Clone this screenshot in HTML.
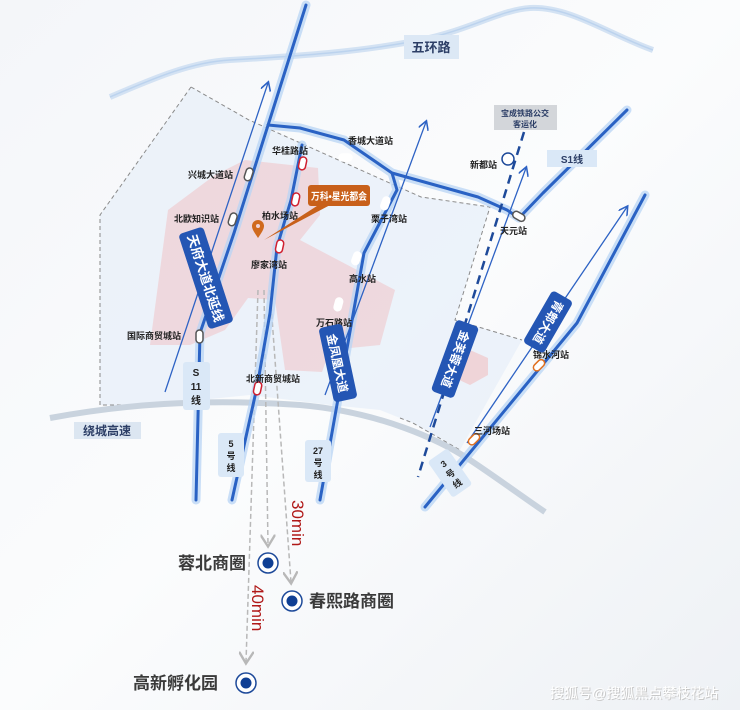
<!DOCTYPE html>
<html><head><meta charset="utf-8">
<style>
html,body{margin:0;padding:0;background:#fff;}
svg{display:block;font-family:"Liberation Sans","Noto Sans CJK SC",sans-serif;}
</style></head>
<body>
<svg width="740" height="710" viewBox="0 0 740 710" xmlns="http://www.w3.org/2000/svg">
<defs>
<linearGradient id="bg" x1="0" y1="0" x2="1" y2="1">
<stop offset="0" stop-color="#f4f6f9"/><stop offset="0.5" stop-color="#fbfcfd"/><stop offset="1" stop-color="#eef1f5"/>
</linearGradient>
<marker id="ab" markerWidth="8" markerHeight="8" refX="6" refY="4" orient="auto"><path d="M0,0 L7,4 L0,8" fill="none" stroke="#2d62c4" stroke-width="1.2"/></marker>
<marker id="ag" markerWidth="10" markerHeight="10" refX="7" refY="5" orient="auto"><path d="M0,0 L8,5 L0,10" fill="none" stroke="#b8b8b8" stroke-width="1.6"/></marker>
</defs>
<rect width="740" height="710" fill="url(#bg)"/>

<!-- 五环路 -->
<path d="M110,97 C150,80 190,62 230,60 C300,56 360,52 420,40 C470,30 500,10 530,8 C570,6 610,35 653,50" fill="none" stroke="#d3e2f3" stroke-width="6"/>
<path d="M110,97 C150,80 190,62 230,60 C300,56 360,52 420,40 C470,30 500,10 530,8 C570,6 610,35 653,50" fill="none" stroke="#bcd3ee" stroke-width="1.5"/>
<rect x="404" y="35" width="55" height="24" fill="#dce8f5"/>
<text x="431" y="52" font-size="13" font-weight="bold" fill="#2c3e66" text-anchor="middle">五环路</text>

<!-- district -->
<path d="M191,87 L249,120 L421,197 L490,207 L455,320 L522,340 L460,450 L413,423 L400,418 L380,410 L330,405 L250,395 L150,405 L100,405 L100,215 Z" fill="#e8f0f9" opacity="0.8"/>
<path d="M191,87 L249,120 L421,197 L490,207 L455,320 L522,340" fill="none" stroke="#8a8a8a" stroke-width="1" stroke-dasharray="4,3"/>
<path d="M400,418 L413,423 L460,450" fill="none" stroke="#8a8a8a" stroke-width="1" stroke-dasharray="4,3"/>
<path d="M191,87 L100,215 L100,405 L150,405" fill="none" stroke="#8a8a8a" stroke-width="1" stroke-dasharray="4,3"/>
<!-- pink -->
<path d="M150,345 L168,210 L215,175 L245,160 L318,168 L320,215 L300,240 L395,290 L380,345 L330,350 L322,372 L285,370 L275,300 L248,298 L225,330 L190,345 Z" fill="#efd4d8" opacity="0.85"/>
<path d="M455,355 L470,350 L488,358 L488,375 L470,385 L455,378 Z" fill="#efd4d8"/>

<!-- 绕城高速 -->
<path d="M50,418 C120,405 200,398 300,405 C380,412 440,440 470,460 C500,480 520,495 545,512" fill="none" stroke="#c9d3de" stroke-width="6"/>
<rect x="74" y="422" width="67" height="17" fill="#dce6f1"/>
<text x="107" y="435" font-size="12" font-weight="bold" fill="#2c3e66" text-anchor="middle">绕城高速</text>

<!-- dashed gray commute arrows -->
<path d="M258,290 L246,662" stroke="#b8b8b8" stroke-width="1.5" stroke-dasharray="5,3" fill="none" marker-end="url(#ag)"/>
<path d="M264,290 L268,545" stroke="#b8b8b8" stroke-width="1.5" stroke-dasharray="5,3" fill="none" marker-end="url(#ag)"/>
<path d="M270,290 L291,582" stroke="#b8b8b8" stroke-width="1.5" stroke-dasharray="5,3" fill="none" marker-end="url(#ag)"/>

<!-- glow lines -->
<g fill="none" stroke="#b9d5f5" stroke-width="9" stroke-linecap="round" stroke-linejoin="round" opacity="0.75">
<path d="M306,5 L234,233 L200,333 L196,500"/>
<path d="M268,125 L300,128 L344,140 L392,173 L478,197 L507,210 L519,218 L543,193 L627,110"/>
<path d="M392,173 L397,190 L364,253 L320,500"/>
<path d="M302,145 L291,200 L277,247 L270,313 L257,387 L232,500"/>
<path d="M645,195 L577,323 L425,507"/>
</g>
<g fill="none" stroke="#2a62c4" stroke-width="3" stroke-linecap="round" stroke-linejoin="round">
<path d="M306,5 L234,233 L200,333 L196,500"/>
<path d="M268,125 L300,128 L344,140 L392,173 L478,197 L507,210 L519,218 L543,193 L627,110"/>
<path d="M392,173 L397,190 L364,253 L320,500"/>
<path d="M302,145 L291,200 L277,247 L270,313 L257,387 L232,500"/>
<path d="M645,195 L577,323 L425,507"/>
</g>
<!-- thin arrows -->
<g stroke="#2d62c4" stroke-width="1.3" fill="none" marker-end="url(#ab)">
<path d="M165,392 L268,83"/>
<path d="M325,395 L426,122"/>
<path d="M430,427 L526,168"/>
<path d="M467,443 L627,207"/>
</g>
<!-- dashed railway -->
<path d="M524,132 L418,477" stroke="#1e4a9a" stroke-width="2.5" stroke-dasharray="9,6" fill="none"/>
<circle cx="508" cy="159" r="6" fill="#fff" stroke="#1e4a9a" stroke-width="1.5"/>
<rect x="494" y="105" width="63" height="25" fill="#d3d6da"/>
<text x="525" y="116" font-size="8" font-weight="bold" fill="#2c3e66" text-anchor="middle">宝成铁路公交</text>
<text x="525" y="127" font-size="8" font-weight="bold" fill="#2c3e66" text-anchor="middle">客运化</text>
<rect x="547" y="150" width="50" height="17" fill="#dae8f7"/>
<text x="572" y="163" font-size="10" font-weight="bold" fill="#2c3e66" text-anchor="middle">S1线</text>

<!-- stations -->
<g stroke-width="1.5">
<rect x="245" y="168" width="7" height="13" rx="3.5" fill="#fff" stroke="#555" transform="rotate(18 249 175)"/>
<rect x="229" y="213" width="7" height="13" rx="3.5" fill="#fff" stroke="#555" transform="rotate(18 233 220)"/>
<rect x="196" y="330" width="7" height="13" rx="3.5" fill="#fff" stroke="#555"/>
<rect x="299" y="157" width="7" height="13" rx="3.5" fill="#fff" stroke="#d02030" transform="rotate(12 303 164)"/>
<rect x="292" y="193" width="7" height="13" rx="3.5" fill="#fff" stroke="#d02030" transform="rotate(12 296 200)"/>
<rect x="276" y="240" width="7" height="13" rx="3.5" fill="#fff" stroke="#d02030" transform="rotate(12 280 247)"/>
<rect x="254" y="382" width="7" height="13" rx="3.5" fill="#fff" stroke="#d02030" transform="rotate(12 258 389)"/>
<rect x="339" y="154" width="13" height="7" rx="3.5" fill="#fff" stroke="#fff"/>
<rect x="382" y="197" width="7" height="13" rx="3.5" fill="#fff" stroke="#fff" transform="rotate(20 386 203)"/>
<rect x="353" y="252" width="7" height="13" rx="3.5" fill="#fff" stroke="#fff" transform="rotate(20 357 258)"/>
<rect x="335" y="298" width="7" height="13" rx="3.5" fill="#fff" stroke="#fff" transform="rotate(15 339 304)"/>
<rect x="512" y="213" width="13" height="7" rx="3.5" fill="#fff" stroke="#555" transform="rotate(30 519 217)"/>
<rect x="533" y="362" width="13" height="7" rx="3.5" fill="#fff" stroke="#e07020" transform="rotate(-45 539 366)"/>
<rect x="468" y="436" width="13" height="7" rx="3.5" fill="#fff" stroke="#e07020" transform="rotate(-45 474 440)"/>
</g>

<!-- station labels -->
<g font-size="9" font-weight="bold" fill="#222">
<text x="188" y="178">兴城大道站</text>
<text x="174" y="222">北欧知识站</text>
<text x="127" y="339">国际商贸城站</text>
<text x="272" y="154">华桂路站</text>
<text x="262" y="219">柏水场站</text>
<text x="251" y="268">廖家湾站</text>
<text x="246" y="382">北新商贸城站</text>
<text x="348" y="144">香城大道站</text>
<text x="371" y="222">栗子湾站</text>
<text x="349" y="282">高水站</text>
<text x="316" y="326">万石路站</text>
<text x="470" y="168">新都站</text>
<text x="500" y="234">天元站</text>
<text x="533" y="358">锦水河站</text>
<text x="474" y="434">三河场站</text>
</g>

<!-- line name boxes -->
<g transform="translate(206,278) rotate(72)">
<rect x="-50" y="-13" width="100" height="26" rx="4" fill="#2456b4"/>
<text x="0" y="5" font-size="13" font-weight="bold" fill="#fff" text-anchor="middle">天府大道北延线</text>
</g>
<g transform="translate(338,363) rotate(78)">
<rect x="-38" y="-12" width="76" height="24" rx="4" fill="#2456b4"/>
<text x="0" y="5" font-size="12" font-weight="bold" fill="#fff" text-anchor="middle">金凤凰大道</text>
</g>
<g transform="translate(455,359) rotate(110)">
<rect x="-38" y="-12" width="76" height="24" rx="4" fill="#2456b4"/>
<text x="0" y="4" font-size="12" font-weight="bold" fill="#fff" text-anchor="middle">金芙蓉大道</text>
</g>
<g transform="translate(548,322) rotate(120)">
<rect x="-30" y="-12" width="60" height="24" rx="4" fill="#2456b4"/>
<text x="0" y="4" font-size="12" font-weight="bold" fill="#fff" text-anchor="middle">青郫大道</text>
</g>
<rect x="183" y="362" width="27" height="48" rx="3" fill="#dae8f7"/>
<g font-size="10" font-weight="bold" fill="#222" text-anchor="middle">
<text x="196" y="376">S</text><text x="196" y="390">11</text><text x="196" y="404">线</text>
</g>
<rect x="218" y="433" width="26" height="44" rx="3" fill="#dae8f7"/>
<g font-size="9" font-weight="bold" fill="#222" text-anchor="middle">
<text x="231" y="447">5</text><text x="231" y="459">号</text><text x="231" y="471">线</text>
</g>
<rect x="305" y="440" width="26" height="42" rx="3" fill="#dae8f7"/>
<g font-size="9" font-weight="bold" fill="#222" text-anchor="middle">
<text x="318" y="454">27</text><text x="318" y="466">号</text><text x="318" y="478">线</text>
</g>
<g transform="translate(450,473) rotate(-35)">
<rect x="-12" y="-22" width="24" height="44" rx="3" fill="#dae8f7"/>
<g font-size="9" font-weight="bold" fill="#222" text-anchor="middle">
<text x="0" y="-8">3</text><text x="0" y="4">号</text><text x="0" y="16">线</text>
</g></g>

<!-- callout -->
<path d="M264,240 L320,204 L332,204 Z" fill="#c8601a"/>
<rect x="308" y="185" width="62" height="21" rx="3" fill="#c8601a"/>
<text x="311" y="200" font-size="10" font-weight="bold" fill="#fff" textLength="56" lengthAdjust="spacingAndGlyphs">万科•星光都会</text>
<path d="M258,238 C254,232 252,229 252,226 A6,6 0 1 1 264,226 C264,229 262,232 258,238 Z" fill="#d06a1e"/>
<circle cx="258" cy="226" r="2" fill="#efd4d8"/>

<!-- time labels -->
<text transform="translate(292,500) rotate(90)" font-size="17" fill="#b01818">30min</text>
<text transform="translate(252,585) rotate(90)" font-size="17" fill="#b01818">40min</text>

<!-- destinations -->
<g>
<circle cx="268" cy="563" r="10" fill="#fff" stroke="#1e4a9a" stroke-width="1.5"/><circle cx="268" cy="563" r="5.5" fill="#0f3f94"/>
<circle cx="292" cy="601" r="10" fill="#fff" stroke="#1e4a9a" stroke-width="1.5"/><circle cx="292" cy="601" r="5.5" fill="#0f3f94"/>
<circle cx="246" cy="683" r="10" fill="#fff" stroke="#1e4a9a" stroke-width="1.5"/><circle cx="246" cy="683" r="5.5" fill="#0f3f94"/>
</g>
<g font-size="17" font-weight="bold" fill="#3a3a3a">
<text x="178" y="569">蓉北商圈</text>
<text x="309" y="607">春熙路商圈</text>
<text x="133" y="689">高新孵化园</text>
</g>

<text x="551" y="699" font-size="14" fill="#c8c8c8">搜狐号@搜狐黑点攀枝花站</text>
<text x="550" y="698" font-size="14" fill="#ffffff">搜狐号@搜狐黑点攀枝花站</text>
</svg>
</body></html>
